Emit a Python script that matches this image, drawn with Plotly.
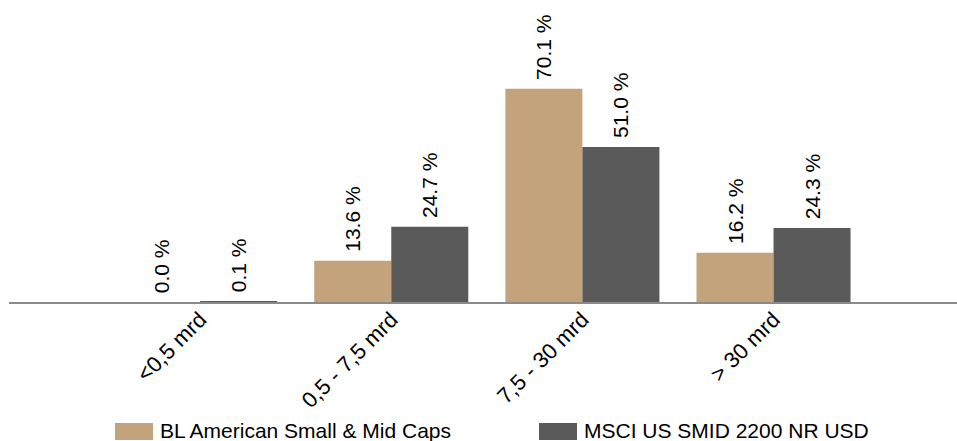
import plotly.graph_objects as go

categories = ["<0,5 mrd", "0,5 - 7,5 mrd", "7,5 - 30 mrd", "> 30 mrd"]
fund_name = "BL American Small & Mid Caps"
bench_name = "MSCI US SMID 2200 NR USD"
fund_values = [0.0, 13.6, 70.1, 16.2]
bench_values = [0.1, 24.7, 51.0, 24.3]

TAN = "#C3A37C"
DARK = "#5A5A5A"
FONT = "Liberation Sans, Arial, sans-serif"

fig = go.Figure()
for name, vals, col in [(fund_name, fund_values, TAN), (bench_name, bench_values, DARK)]:
    fig.add_trace(go.Bar(
        x=categories, y=vals, name=name,
        marker=dict(color=col, line=dict(width=0)),
        text=[f"{v:.1f} %" for v in vals],
        texttemplate=" %{text}",
        textposition="outside", textangle=-90, cliponaxis=False,
        textfont=dict(family=FONT, size=21, color="#000000"),
        showlegend=False,
    ))

fig.update_layout(
    width=957, height=441,
    margin=dict(l=9, r=0, t=10, b=139),
    paper_bgcolor="white", plot_bgcolor="white",
    barmode="group", bargap=0.194, bargroupgap=0,
    font=dict(family=FONT, size=21, color="#000000"),
    xaxis=dict(
        type="category", range=[-1.0, 3.96], showgrid=False,
        showline=True, linecolor="#8A8A8A", linewidth=2,
        ticks="outside", ticklen=0, tickcolor="rgba(0,0,0,0)",
        ticklabelstandoff=-6,
        tickangle=-45, automargin=False,
        tickfont=dict(family=FONT, size=22, color="#000000"),
    ),
    yaxis=dict(range=[0, 96], visible=False, showgrid=False, zeroline=False),
)

# legend drawn as swatches + text
legend_items = [(fund_name, TAN, (115 - 9) / 948), (bench_name, DARK, (539 - 9) / 948)]
for name, col, x0 in legend_items:
    fig.add_shape(type="rect", xref="paper", yref="paper",
                  x0=x0, x1=x0 + 38 / 948, y0=(441 - 440 - 139) / 292, y1=(441 - 423 - 139) / 292,
                  fillcolor=col, line=dict(width=0))
    fig.add_annotation(xref="paper", yref="paper", x=x0 + 43 / 948, y=(441 - 431 - 139) / 292,
                       text=name, showarrow=False, xanchor="left", yanchor="middle",
                       font=dict(family=FONT, size=21, color="#000000"))

fig.write_html("out.html")
